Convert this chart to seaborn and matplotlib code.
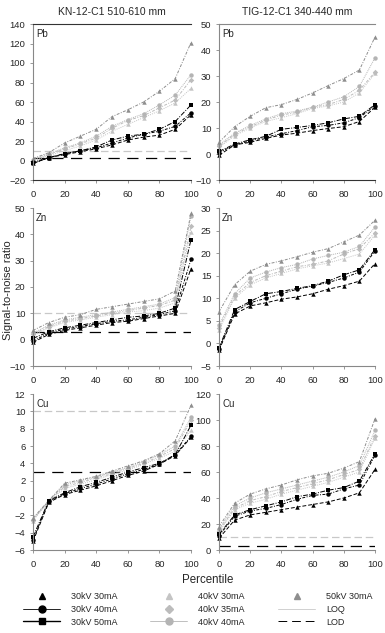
import seaborn as sns
import matplotlib.pyplot as plt
import pandas as pd
import numpy as np
from matplotlib.lines import Line2D

sns.set_style('white')
plt.rcParams['font.family'] = ['Liberation Sans', 'DejaVu Sans']

# percentiles on the x axis
pct = [0, 10, 20, 30, 40, 50, 60, 70, 80, 90, 100]
settings = ['30kV 30mA', '30kV 40mA', '30kV 50mA',
            '40kV 30mA', '40kV 35mA', '40kV 40mA', '50kV 30mA']

# signal-to-noise ratio, one list per setting (same order as settings)
pb_kn = [
    [-3, 3, 6, 9, 12, 16, 21, 24, 26, 32, 47],
    [-2, 3, 7, 10, 13, 18, 23, 27, 30, 35, 49],
    [-3, 3, 7, 10, 14, 21, 25, 27, 32, 40, 57],
    [-1, 5, 10, 15, 21, 30, 37, 44, 51, 59, 74],
    [0, 6, 12, 17, 23, 33, 41, 46, 54, 62, 83],
    [1, 7, 13, 18, 25, 35, 42, 48, 57, 67, 88],
    [2, 8, 18, 25, 32, 45, 52, 60, 71, 84, 121],
]
pb_tig = [
    [-0.5, 3.5, 4.5, 6, 7.3, 8, 9, 9.8, 10.5, 12.5, 18],
    [0.5, 3.5, 5, 6.5, 7.8, 9, 10.5, 11, 12, 14, 18.5],
    [1, 3.8, 5.5, 6.8, 9.5, 10.2, 11, 12, 13.5, 14.5, 19],
    [2.5, 7, 10, 12.5, 14, 15.5, 17.5, 18.5, 20, 23.5, 31],
    [3, 7.5, 10.5, 13, 15, 16, 18, 19, 21, 24.5, 31.5],
    [3.5, 8, 11, 13.5, 15.5, 16.5, 18, 20, 22, 26, 37],
    [4.5, 10.5, 14.5, 17.8, 19, 21, 23.5, 26.3, 29, 32.3, 45],
]
zn_kn = [
    [-1, 2, 3.5, 4.5, 5.5, 6.5, 7, 8, 9, 10, 27],
    [-0.5, 2.5, 4, 5, 6, 7, 7.5, 8.5, 9.5, 11, 30.5],
    [0.5, 3, 4.5, 5.5, 6.5, 7.5, 8.5, 9, 10, 12, 38],
    [1.5, 4.5, 6.5, 7.5, 8.5, 9.5, 10.5, 11, 12, 14, 41],
    [2, 5, 7, 8, 9, 10, 11, 12, 13, 15, 43],
    [2.5, 5.5, 7.5, 8.5, 9.5, 10.5, 11.5, 12.5, 13.5, 16, 47],
    [3.5, 6.5, 8.5, 9.5, 11.5, 12.5, 13.5, 14.5, 15.5, 18.5, 48],
]
zn_tig = [
    [-1.5, 6.5, 8.3, 9, 9.8, 10.3, 11, 12, 12.8, 13.8, 17.7],
    [-1.3, 7, 9, 10, 11, 12, 12.7, 13.5, 14.5, 15.8, 20.5],
    [-1, 7.5, 9.3, 11, 11.5, 12.2, 12.8, 13.8, 15.2, 16.3, 20.8],
    [3, 10, 13, 14.5, 15.5, 16.5, 17.2, 17.8, 18.8, 19.8, 24],
    [3.5, 10.5, 13.5, 15, 16, 17, 17.5, 18.3, 19.8, 21, 24.5],
    [4, 11, 14.5, 15.8, 16.8, 17.5, 18.7, 19.5, 20.2, 21.5, 25.8],
    [7, 13, 16, 17.5, 18.3, 19.2, 20.2, 21, 22.5, 24, 27.3],
]
cu_kn = [
    [-5, -0.5, 0.4, 0.9, 1.4, 2, 2.6, 3.1, 3.9, 4.9, 7],
    [-4.8, -0.4, 0.5, 1.1, 1.6, 2.2, 2.8, 3.3, 3.9, 5, 7.1],
    [-4.5, -0.3, 0.6, 1.3, 1.8, 2.4, 3, 3.5, 4, 5, 8.4],
    [-2.6, -0.4, 1.1, 1.6, 2.1, 2.7, 3.2, 3.9, 4.6, 5.4, 7.8],
    [-2.5, -0.3, 1.3, 1.8, 2.3, 2.8, 3.4, 4, 4.8, 5.7, 9],
    [-2.5, -0.3, 1.5, 2, 2.4, 3, 3.5, 4.2, 5, 6, 9.3],
    [-2.3, -0.3, 1.7, 2.1, 2.5, 3.1, 3.7, 4.3, 5.1, 6.6, 10.7],
]
cu_tig = [
    [9, 23, 27, 29, 31, 33, 35, 37, 40, 44, 62],
    [11, 26, 30, 32, 35, 39, 42, 43, 47, 50, 73],
    [12, 27, 31, 34, 37, 41, 43, 46, 48, 53, 74],
    [14, 31, 36, 39, 43, 46, 49, 52, 56, 60, 86],
    [15, 32, 38, 41, 45, 48, 51, 54, 58, 62, 88],
    [16, 34, 40, 44, 47, 50, 53, 56, 60, 65, 92],
    [18, 36, 43, 47, 50, 54, 57, 59, 63, 68, 101],
]

loq = 10
lod = 3

colors = {'30kV 30mA': 'black', '30kV 40mA': 'black', '30kV 50mA': 'black',
          '40kV 30mA': '#c4c4c4', '40kV 35mA': '#bcbcbc', '40kV 40mA': '#b4b4b4',
          '50kV 30mA': '#8e8e8e'}
markers = {'30kV 30mA': '^', '30kV 40mA': 'o', '30kV 50mA': 's',
           '40kV 30mA': '^', '40kV 35mA': 'D', '40kV 40mA': 'o',
           '50kV 30mA': '^'}
dashes = {'30kV 30mA': (4, 2), '30kV 40mA': (3, 1.5, 1, 1.5),
          '30kV 50mA': (5, 1.5, 1, 1.5), '40kV 30mA': (1, 1.2),
          '40kV 35mA': (3, 1.5, 1, 1.5), '40kV 40mA': (1, 1),
          '50kV 30mA': (3, 1.5, 1, 1.5)}

panels = [
    ('Pb', pb_kn, (-20, 140, 20), True),
    ('Pb', pb_tig, (-10, 50, 10), False),
    ('Zn', zn_kn, (-10, 50, 10), True),
    ('Zn', zn_tig, (-5, 30, 5), False),
    ('Cu', cu_kn, (-6, 12, 2), True),
    ('Cu', cu_tig, (0, 120, 20), True),
]

W, H = 385, 633
fig = plt.figure(figsize=(W / 100, H / 100), dpi=100)

rows = [(24, 180), (208, 366), (394, 550)]
cols = [(33, 191), (219, 375)]

for i, (elem, vals, (ylo, yhi, ystep), show_lims) in enumerate(panels):
    r, c = divmod(i, 2)
    top, bot = rows[r]
    x0, x1 = cols[c]
    ax = fig.add_axes([x0 / W, 1 - bot / H, (x1 - x0) / W, (bot - top) / H])

    df = pd.DataFrame({'pct': pct * len(settings),
                       'snr': np.concatenate(vals),
                       'setting': np.repeat(settings, len(pct))})

    if show_lims:
        ax.plot([0, 100], [loq, loq], color='#c8c8c8', lw=0.9, dashes=(6, 3), zorder=1)
        ax.plot([0, 100], [lod, lod], color='black', lw=0.9, dashes=(9, 6), zorder=1)

    # grey series first so black lies on top
    order = settings[3:] + settings[:3]
    for s in order:
        sub = df[df['setting'] == s]
        sns.lineplot(data=sub, x='pct', y='snr', ax=ax, color=colors[s],
                     marker=markers[s], markersize=3.2 if markers[s] != 'D' else 2.8,
                     markeredgewidth=0, lw=0.7, clip_on=False, legend=False)
        ax.lines[-1].set_dashes(dashes[s])

    ax.set_xlim(0, 100)
    ax.set_ylim(ylo, yhi)
    ax.set_xticks(range(0, 101, 20))
    ax.set_yticks(np.arange(ylo, yhi + ystep / 2, ystep))
    ax.set_xlabel('')
    ax.set_ylabel('')
    ax.tick_params(axis='both', labelsize=6.8, length=2.5, width=0.6,
                   color='#888888', direction='out', left=True, bottom=True)
    ax.tick_params(axis='x', pad=5)
    ax.tick_params(axis='y', pad=3)
    ax.spines['right'].set_visible(False)
    ax.spines['top'].set_visible(r == 0)
    for sp in ['left', 'bottom', 'top']:
        ax.spines[sp].set_color('#888888')
        ax.spines[sp].set_linewidth(0.8)
    if r == 0:
        ax.spines['bottom'].set_color('#333333')
        ax.spines['top'].set_color('#333333' if c == 0 else '#888888')
    ax.text(0.02, 0.97, elem, transform=ax.transAxes, fontsize=7,
            ha='left', va='top')

fig.text(112 / W, 1 - 12 / H, 'KN-12-C1 510-610 mm', fontsize=7.5, ha='center', va='center')
fig.text(297 / W, 1 - 12 / H, 'TIG-12-C1 340-440 mm', fontsize=7.5, ha='center', va='center')
fig.text(8 / W, 1 - 290 / H, 'Signal-to-noise ratio', fontsize=8, rotation=90,
         ha='center', va='center')
fig.text(208 / W, 1 - 580 / H, 'Percentile', fontsize=8.3, ha='center', va='center')

# legend in three separate column blocks
leg_cols = [
    ([Line2D([], [], color='black', marker='^', ls='none', ms=4.5),
      Line2D([], [], color='black', marker='o', lw=0.6, ms=5),
      Line2D([], [], color='black', marker='s', lw=1.0, ms=5)],
     settings[:3], 23),
    ([Line2D([], [], color='#c4c4c4', marker='^', ls='none', ms=4.5),
      Line2D([], [], color='#bcbcbc', marker='D', ls='none', ms=4),
      Line2D([], [], color='#b4b4b4', marker='o', lw=0.6, ms=5)],
     settings[3:6], 150),
    ([Line2D([], [], color='#8e8e8e', marker='^', ls='none', ms=4.5),
      Line2D([], [], color='#d0d0d0', lw=0.7),
      Line2D([], [], color='black', lw=0.7, dashes=(9, 5))],
     ['50kV 30mA', 'LOQ', 'LOD'], 278),
]
for hs, ls, xpos in leg_cols:
    fig.legend(hs, ls, loc='upper left', bbox_to_anchor=(xpos / W, 1 - 592 / H),
               frameon=False, fontsize=6.5, handlelength=4.1, handletextpad=1.2,
               labelspacing=0.42, borderpad=0, borderaxespad=0)

fig.savefig('out.png', dpi=100)
